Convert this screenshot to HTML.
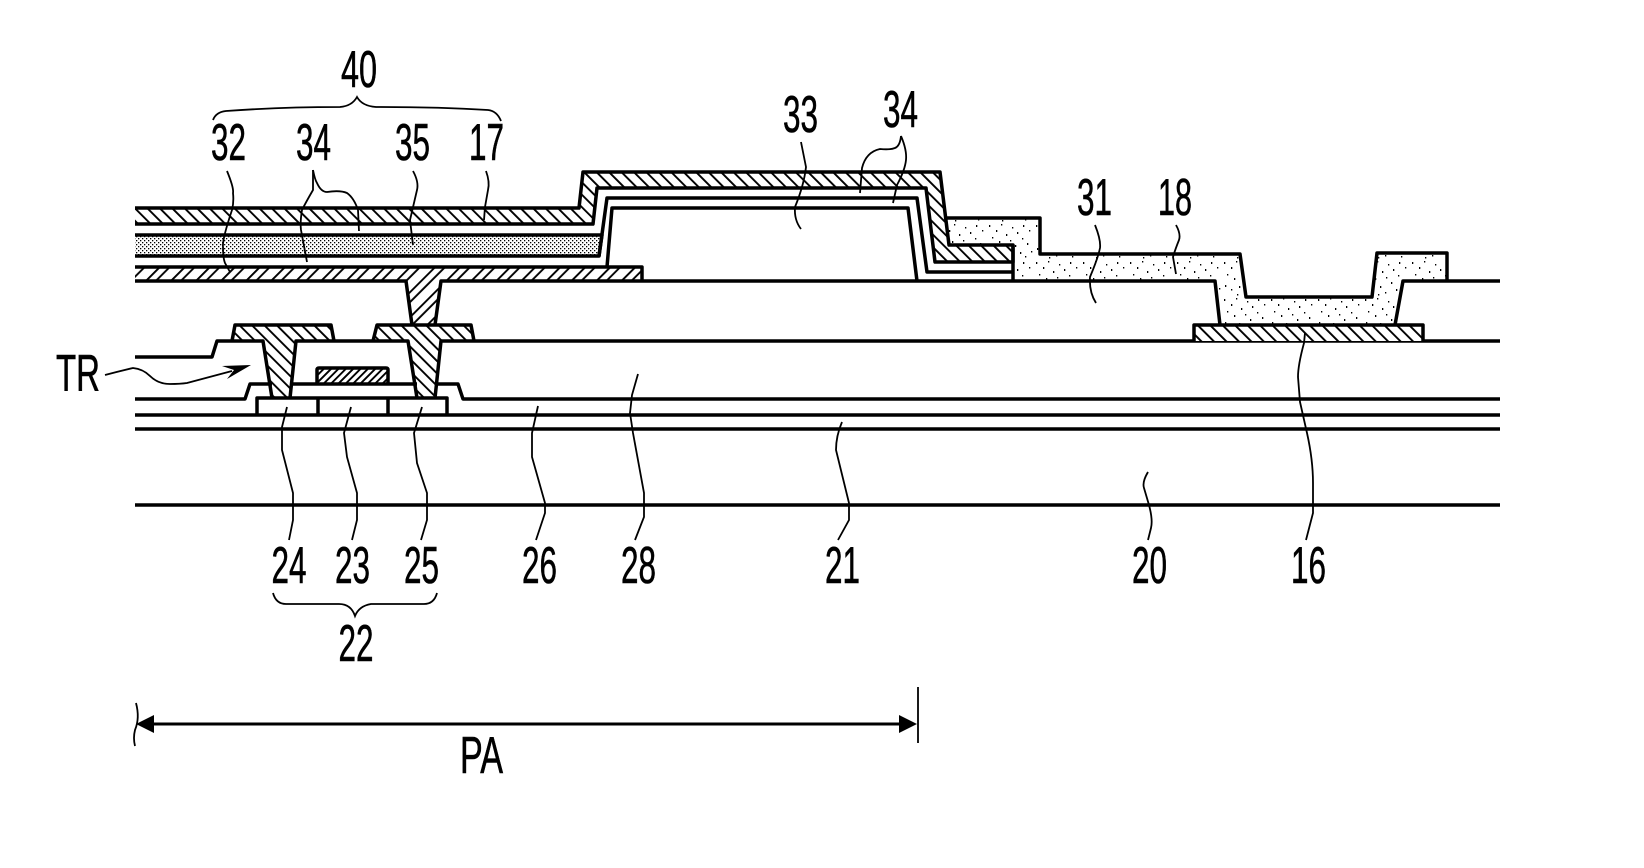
<!DOCTYPE html>
<html lang="en">
<head>
<meta charset="utf-8">
<title>Cross-section diagram</title>
<style>
html,body{margin:0;padding:0;background:#fff;}
svg{display:block;}
text{font-family:"Liberation Sans",sans-serif;font-size:52px;fill:#000;stroke:#000;stroke-width:.6;}
.k{fill:none;stroke:#000;stroke-width:3.5;stroke-linejoin:round;}
.l{fill:none;stroke:#000;stroke-width:1.8;}
</style>
</head>
<body>
<svg width="1644" height="868" viewBox="0 0 1644 868" xmlns="http://www.w3.org/2000/svg">
<defs>
<pattern id="hb" width="8.8" height="8.8" patternUnits="userSpaceOnUse" patternTransform="rotate(-45)"><rect width="8.8" height="8.8" fill="#fff"/><rect width="1.9" height="8.8" fill="#000"/></pattern>
<pattern id="hf" width="17.7" height="10" patternUnits="userSpaceOnUse" patternTransform="rotate(45)"><rect width="17.7" height="10" fill="#fff"/><rect width="1.9" height="10" fill="#000"/><rect x="7" width="1.9" height="10" fill="#000"/></pattern>
<pattern id="hg" width="5.2" height="5.2" patternUnits="userSpaceOnUse" patternTransform="rotate(45)"><rect width="5.2" height="5.2" fill="#fff"/><rect width="1.9" height="5.2" fill="#000"/></pattern>
<pattern id="dots" width="4" height="4" patternUnits="userSpaceOnUse"><rect width="4" height="4" fill="#fff"/><rect x="0" y="0" width="1.3" height="1.3" fill="#000"/><rect x="2" y="2" width="1.3" height="1.3" fill="#000"/></pattern>
<pattern id="sp" width="47" height="37" patternUnits="userSpaceOnUse"><rect width="47" height="37" fill="#fff"/><g fill="#000"><rect x="2" y="3" width="1.3" height="2"/><rect x="9" y="8" width="1.3" height="2"/><rect x="14" y="2" width="1.3" height="1.5"/><rect x="19" y="12" width="1.3" height="2"/><rect x="25" y="5" width="1.3" height="1.5"/><rect x="30" y="10" width="1.3" height="2"/><rect x="36" y="3" width="1.3" height="2"/><rect x="42" y="8" width="1.3" height="1.5"/><rect x="5" y="15" width="1.3" height="1.5"/><rect x="12" y="19" width="1.3" height="2"/><rect x="23" y="18" width="1.3" height="1.5"/><rect x="28" y="23" width="1.3" height="2"/><rect x="35" y="16" width="1.3" height="1.5"/><rect x="40" y="21" width="1.3" height="2"/><rect x="3" y="26" width="1.3" height="2"/><rect x="9" y="30" width="1.3" height="1.5"/><rect x="17" y="27" width="1.3" height="2"/><rect x="22" y="33" width="1.3" height="1.5"/><rect x="33" y="30" width="1.3" height="2"/><rect x="44" y="29" width="1.3" height="1.5"/><rect x="38" y="34" width="1.3" height="1.5"/><rect x="15" y="35" width="1.3" height="1.5"/></g></pattern>
</defs>
<rect width="1644" height="868" fill="#fff"/>

<!-- speckled layer 18 -->
<path fill="url(#sp)" d="M946,218 H1040 V254 H1240 L1246,297 H1372 L1377,253 H1447 V281 H1403 L1395,325 H1220 L1215,281 H1013 V245 H949 Z"/>
<path class="k" d="M946,218 H1040 V254 H1240 L1246,297 H1372 L1377,253 H1447 V281"/>

<!-- layer 17 -->
<path class="k" style="fill:url(#hb)" d="M135,208 H579 L583,172 H940 L949,245 H1013 V262 H935 L926,188 H597 L593,224 H135"/>

<!-- layer 35 -->
<path class="k" style="fill:url(#dots)" d="M135,235 H602 L599,256 H135"/>
<!-- layer 34 -->
<path class="k" d="M599,256 L607,198 H917 L927,272 H1013"/>
<path class="k" d="M1013,245 V281"/>
<!-- layer 33 -->
<path class="k" d="M607,267 L612,208 H908 L917,281"/>

<!-- layer 32 with via -->
<path fill="url(#hf)" d="M135,267 H642 V281 H441 L435,325 H412 L406,281 H135 Z"/>
<path class="k" d="M135,267 H642 V281 M135,281 H406 L412,325 M435,325 L441,281 H1215 L1220,325 M1395,325 L1403,281 H1500"/>

<!-- source/drain pads + vias -->
<path fill="url(#hb)" d="M232,341 L235,325 H331 L334,341 H296 L290,398 H272 L263,341 Z"/>
<path fill="url(#hb)" d="M373,341 L377,325 H471 L474,341 H441 L435,398 H417 L408,341 Z"/>
<path class="k" d="M232,341 L235,325 H331 L334,341"/>
<path class="k" d="M373,341 L377,325 H471 L474,341"/>

<!-- layer 28 top edge -->
<path class="k" d="M135,357 H212 L217,341 H263 L272,398 M290,398 L296,341 H408 L417,398 M435,398 L441,341 H1500"/>

<!-- gate -->
<path class="k" style="fill:url(#hg)" d="M317,383 V370 Q317,368 319,368 H386 Q388,368 388,370 V383"/>

<!-- gate insulator 26 -->
<path class="k" d="M135,399 H245 L250,384 H272 M290,384 H417 M435,384 H458 L463,399 H1500"/>

<!-- semiconductor 22 -->
<path class="k" d="M257,415 V398 H447 V415"/>
<path class="k" d="M318,398 V415 M388,398 V415"/>

<!-- pad 16 -->
<path class="k" style="fill:url(#hb)" d="M1194,341 V325 H1423 V341"/>

<!-- horizontal base lines -->
<path class="k" d="M135,415 H1500 M135,429 H1500"/>
<path class="k" d="M135,505 H1500"/>

<!-- leaders -->
<path class="l" d="M227,171 Q234,188 233,193 Q234,202 232,210 Q222,240 223,247 Q223,258 225,263 L230,272"/>
<path class="l" d="M313,170 V190 Q306,202 302,210 Q300,222 301,230 L307,262"/>
<path class="l" d="M313,170 Q315,180 317,183 Q321,192 327,192 Q340,190 347,193 Q354,198 358,210 L359,231"/>
<path class="l" d="M413,171 Q419,182 417,190 L410,220 L413,245"/>
<path class="l" d="M486,171 Q490,182 488,190 L485,207 L484,220"/>
<path class="l" d="M801,142 L806,167 Q804,185 795,207 Q794,220 801,229"/>
<path class="l" d="M901,136 Q900,146 895,148 Q890,150 880,149 Q866,152 862,168 L860,193"/>
<path class="l" d="M901,136 Q907,150 906,160 Q905,170 897,185 L893,203"/>
<path class="l" d="M1095,225 Q1101,240 1100,248 Q1098,258 1090,277 Q1089,292 1096,303"/>
<path class="l" d="M1176,225 Q1181,234 1179,240 Q1175,250 1173,257 L1176,274"/>
<path class="l" d="M287,407 L282,427 V450 L293,493 V520 L289,540"/>
<path class="l" d="M351,407 L344,433 L347,457 L357,493 V520 L352,540"/>
<path class="l" d="M422,407 L414,433 L417,463 L427,493 V520 L421,540"/>
<path class="l" d="M538,406 L532,433 V457 L545,503 V513 L536,540"/>
<path class="l" d="M638,374 L632,395 L630,413 L633,433 L644,493 V517 L635,540"/>
<path class="l" d="M842,422 Q836,436 836,450 L849,503 V520 L838,540"/>
<path class="l" d="M1148,472 Q1142,482 1144,488 L1149,505 Q1153,520 1151,528 L1148,540"/>
<path class="l" d="M1305,333 L1304,343 Q1298,365 1298,377 L1300,402 L1307,433 Q1313,460 1313,483 V513 L1306,540"/>

<!-- braces -->
<path class="l" d="M213,120 Q216,112 226,111 Q280,107 340,107 Q352,106 357,97 Q362,106 376,107 Q440,107 488,110 Q497,111 501,121"/>
<path class="l" d="M273,593 Q276,604 286,604 H339 Q351,604 355,616 Q359,606 371,604 H424 Q434,604 437,593"/>

<!-- TR arrow -->
<path class="l" d="M105,375 Q120,371 133,368 Q143,369 150,376 Q158,384 170,384 Q180,384 187,383 L232,371"/>
<path fill="#000" d="M251,365 L222,366 L234,370 L227,379 Z"/>

<!-- PA dimension -->
<path class="k" style="stroke-width:3" d="M140,724 H912"/>
<path fill="#000" d="M136,724 L154,715 V733 Z"/>
<path fill="#000" d="M917,724 L899,715 V733 Z"/>
<path stroke="#000" stroke-width="1.8" d="M918,687 V743"/>
<path class="l" d="M136,703 Q140,718 135,730 Q133,738 135,746"/>

<!-- labels -->
<text x="341" y="87" textLength="36" lengthAdjust="spacingAndGlyphs">40</text>
<text x="211" y="160" textLength="35" lengthAdjust="spacingAndGlyphs">32</text>
<text x="296" y="160" textLength="35" lengthAdjust="spacingAndGlyphs">34</text>
<text x="395" y="160" textLength="35" lengthAdjust="spacingAndGlyphs">35</text>
<text x="469" y="160" textLength="35" lengthAdjust="spacingAndGlyphs">17</text>
<text x="783" y="132" textLength="35" lengthAdjust="spacingAndGlyphs">33</text>
<text x="883" y="127" textLength="35" lengthAdjust="spacingAndGlyphs">34</text>
<text x="1077" y="215" textLength="35" lengthAdjust="spacingAndGlyphs">31</text>
<text x="1158" y="215" textLength="34" lengthAdjust="spacingAndGlyphs">18</text>
<text x="271.5" y="583" textLength="35" lengthAdjust="spacingAndGlyphs">24</text>
<text x="335" y="583" textLength="35" lengthAdjust="spacingAndGlyphs">23</text>
<text x="404" y="583" textLength="35" lengthAdjust="spacingAndGlyphs">25</text>
<text x="522" y="583" textLength="35" lengthAdjust="spacingAndGlyphs">26</text>
<text x="621" y="583" textLength="35" lengthAdjust="spacingAndGlyphs">28</text>
<text x="825" y="583" textLength="35" lengthAdjust="spacingAndGlyphs">21</text>
<text x="1132" y="583" textLength="35" lengthAdjust="spacingAndGlyphs">20</text>
<text x="1291" y="583" textLength="35" lengthAdjust="spacingAndGlyphs">16</text>
<text x="338.5" y="661" textLength="35" lengthAdjust="spacingAndGlyphs">22</text>
<text x="460" y="773" textLength="43" lengthAdjust="spacingAndGlyphs">PA</text>
<text x="56" y="391" textLength="44" lengthAdjust="spacingAndGlyphs">TR</text>
</svg>
</body>
</html>
